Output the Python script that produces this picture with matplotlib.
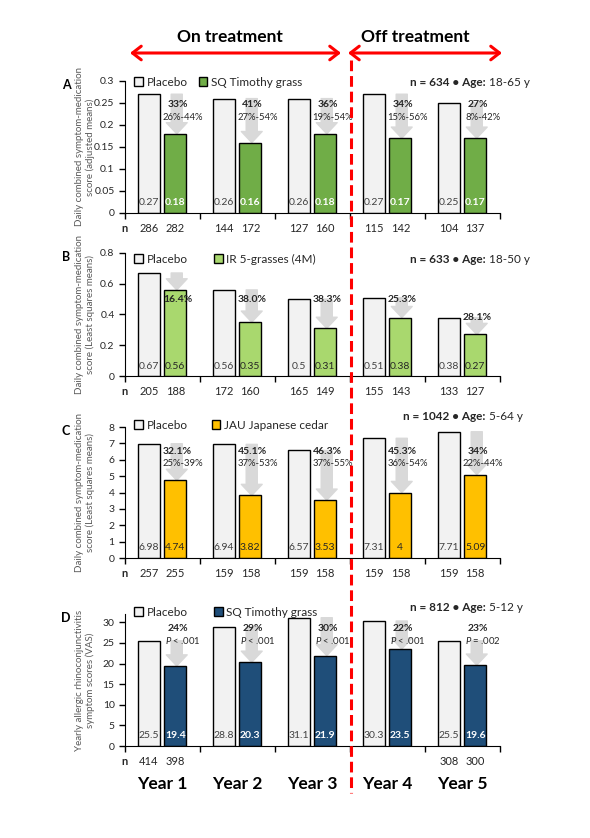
import numpy as np
import matplotlib
matplotlib.use('Agg')
import matplotlib.pyplot as plt
from matplotlib.patches import Patch, FancyArrowPatch
from matplotlib.lines import Line2D

plt.rcParams['font.family'] = ['Lato', 'DejaVu Sans']
plt.rcParams['mathtext.fontset'] = 'custom'
plt.rcParams['mathtext.rm'] = 'Lato'
plt.rcParams['mathtext.it'] = 'Lato:italic'
plt.rcParams['mathtext.bf'] = 'Lato:bold'

years = ['Year 1', 'Year 2', 'Year 3', 'Year 4', 'Year 5']

# panel A - SQ Timothy grass (adults)
a_placebo = [0.27, 0.26, 0.26, 0.27, 0.25]
a_active = [0.18, 0.16, 0.18, 0.17, 0.17]
a_pct = ['33%', '41%', '36%', '34%', '27%']
a_sub = ['26%-44%', '27%-54%', '19%-54%', '15%-56%', '8%-42%']
a_n_placebo = [286, 144, 127, 115, 104]
a_n_active = [282, 172, 160, 142, 137]

# panel B - IR 5-grasses
b_placebo = [0.67, 0.56, 0.5, 0.51, 0.38]
b_active = [0.56, 0.35, 0.31, 0.38, 0.27]
b_pct = ['16.4%', '38.0%', '38.3%', '25.3%', '28.1%']
b_n_placebo = [205, 172, 165, 155, 133]
b_n_active = [188, 160, 149, 143, 127]

# panel C - JAU Japanese cedar
c_placebo = [6.98, 6.94, 6.57, 7.31, 7.71]
c_active = [4.74, 3.82, 3.53, 4, 5.09]
c_pct = ['32.1%', '45.1%', '46.3%', '45.3%', '34%']
c_sub = ['25%-39%', '37%-53%', '37%-55%', '36%-54%', '22%-44%']
c_n_placebo = [257, 159, 159, 159, 159]
c_n_active = [255, 158, 158, 158, 158]

# panel D - SQ Timothy grass (children)
d_placebo = [25.5, 28.8, 31.1, 30.3, 25.5]
d_active = [19.4, 20.3, 21.9, 23.5, 19.6]
d_pct = ['24%', '29%', '30%', '22%', '23%']
d_sub = ['$P$ < .001', '$P$ < .001', '$P$ < .001', '$P$ < .001', '$P$ = .002']
d_n_placebo = [414, None, None, None, 308]
d_n_active = [398, None, None, None, 300]

panels = [
    dict(letter='A', placebo=a_placebo, active=a_active, pct=a_pct, sub=a_sub,
         n_p=a_n_placebo, n_a=a_n_active, color='#70ad47', vcolor='white',
         drug='SQ Timothy grass', info=('n = 634 \u2022 Age:', ' 18-65 y'),
         ylabel='Daily combined symptom-medication\nscore (adjusted means)',
         ylim=0.3, yticks=np.arange(0, 0.31, 0.05),
         rect=[125, 213, 132], pct_y=(0.82, 0.72), leg_y=0.99, info_y=0.99, colsp=0.9),
    dict(letter='B', placebo=b_placebo, active=b_active, pct=b_pct, sub=None,
         n_p=b_n_placebo, n_a=b_n_active, color='#a9d86e', vcolor='#262626',
         drug='IR 5-grasses (4M)', info=('n = 633 \u2022 Age:', ' 18-50 y'),
         ylabel='Daily combined symptom-medication\nscore (Least squares means)',
         ylim=0.8, yticks=np.arange(0, 0.81, 0.2),
         rect=[125, 376, 123], pct_y=None, leg_y=0.95, info_y=0.95, colsp=2.2),
    dict(letter='C', placebo=c_placebo, active=c_active, pct=c_pct, sub=c_sub,
         n_p=c_n_placebo, n_a=c_n_active, color='#ffc000', vcolor='#262626',
         drug='JAU Japanese cedar', info=('n = 1042 \u2022 Age:', ' 5-64 y'),
         ylabel='Daily combined symptom-medication\nscore (Least squares means)',
         ylim=8, yticks=np.arange(0, 9, 1),
         rect=[125, 558, 131], pct_y=(0.81, 0.725), leg_y=1.015, info_y=1.08, colsp=2.0),
    dict(letter='D', placebo=d_placebo, active=d_active, pct=d_pct, sub=d_sub,
         n_p=d_n_placebo, n_a=d_n_active, color='#1f4e79', vcolor='white',
         drug='SQ Timothy grass', info=('n = 812 \u2022 Age:', ' 5-12 y'),
         ylabel='Yearly allergic rhinoconjunctivitis\nsymptom scores (VAS)',
         ylim=32, yticks=np.arange(0, 31, 5),
         rect=[125, 746, 132], pct_y=(0.89, 0.80), leg_y=1.015, info_y=1.05, colsp=2.2),
]

W, H = 590, 838
fig = plt.figure(figsize=(W / 100, H / 100), dpi=100)
dark = '#262626'
grey_txt = '#404040'
x = np.arange(len(years))
wbar = 0.29

for pn in panels:
    left, bottom, hpx = pn['rect']
    ax = fig.add_axes([left / W, 1 - bottom / H, 375 / W, hpx / H])
    ax.bar(x - 0.18, pn['placebo'], wbar, color='#f2f2f2', edgecolor='black', linewidth=1, zorder=2)
    ax.bar(x + 0.17, pn['active'], wbar, color=pn['color'], edgecolor='black', linewidth=1, zorder=2)
    ax.set_xlim(-0.5, 4.5)
    ax.set_ylim(0, pn['ylim'])
    ax.set_xticks(np.arange(-0.5, 5, 1))
    ax.set_xticklabels([])
    ax.set_yticks(pn['yticks'])
    ax.set_yticklabels([f'{v:g}' for v in pn['yticks']], fontsize=7.5, color=dark)
    ax.tick_params(axis='both', direction='out', length=4, width=1)
    ax.spines['top'].set_visible(False)
    ax.spines['right'].set_visible(False)
    ax.patch.set_alpha(0)

    for i in range(len(years)):
        p, a = pn['placebo'][i], pn['active'][i]
        xa = i + 0.17
        ax.annotate('', xy=(xa + 0.02, a), xytext=(xa + 0.02, p),
                    arrowprops=dict(arrowstyle='simple,head_length=0.8,head_width=1.5,tail_width=0.8',
                                    color='#d9d9d9', shrinkA=0, shrinkB=0, mutation_scale=10),
                    zorder=1)
        # values inside bars
        ax.text(i - 0.18, 0.08, f'{p:g}', transform=ax.get_xaxis_transform(), ha='center',
                va='center', fontsize=7.5, color=grey_txt, zorder=3)
        ax.text(xa, 0.08, f'{a:g}', transform=ax.get_xaxis_transform(), ha='center',
                va='center', fontsize=7.5, color=pn['vcolor'], zorder=3,
                fontweight='bold' if pn['vcolor'] == 'white' else 'normal')
        # reduction labels
        if pn['pct_y'] is None:
            ax.text(xa + 0.03, min(p, 0.5), pn['pct'][i], ha='center', va='center',
                    fontsize=7.5, fontweight='bold', color=dark, zorder=3)
        else:
            ax.text(xa + 0.03, pn['pct_y'][0], pn['pct'][i], transform=ax.get_xaxis_transform(),
                    ha='center', va='center', fontsize=7.5, fontweight='bold', color=dark, zorder=3)
            ax.text(xa + 0.1, pn['pct_y'][1], pn['sub'][i], transform=ax.get_xaxis_transform(),
                    ha='center', va='center', fontsize=6.8, color=dark, zorder=3)
        # n row
        for xx, nv in ((i - 0.18, pn['n_p'][i]), (xa, pn['n_a'][i])):
            if nv is not None:
                ax.annotate(str(nv), xy=(xx, 0), xycoords=('data', 'axes fraction'),
                            xytext=(0, -11.5), textcoords='offset points',
                            ha='center', va='center', fontsize=8, color=dark)
    ax.annotate('n', xy=(-0.5, 0), xycoords=('data', 'axes fraction'),
                xytext=(0, -11.5), textcoords='offset points',
                ha='center', va='center', fontsize=8, fontweight='bold', color=dark)

    ax.legend(handles=[Patch(facecolor='#f2f2f2', edgecolor='black', label='Placebo'),
                       Patch(facecolor=pn['color'], edgecolor='black', label=pn['drug'])],
              ncol=2, loc='center left', bbox_to_anchor=(0.025, pn['leg_y']), frameon=False,
              fontsize=8.5, handlelength=0.75, handleheight=0.75, handletextpad=0.3,
              columnspacing=pn['colsp'], borderpad=0, borderaxespad=0)
    for t in ax.get_legend().get_texts():
        t.set_color(dark)

    ax.text(0.962, pn['info_y'], pn['info'][0], transform=ax.transAxes, ha='right',
            va='center', fontsize=8.5, fontweight='bold', color=dark)
    ax.text(0.962, pn['info_y'], pn['info'][1], transform=ax.transAxes, ha='left',
            va='center', fontsize=8.5, color=dark)

    cy = 1 - (bottom - hpx / 2) / H
    fig.text(85 / W, cy, pn['ylabel'], rotation=90, ha='center', va='center',
             multialignment='center', fontsize=7, color='#595959', linespacing=1.15)
    fig.text(66 / W, 1 - (bottom - hpx + 4) / H, pn['letter'], ha='center', va='center',
             fontsize=9, fontweight='bold', color='black')

    if pn['letter'] == 'D':
        for i, yr in enumerate(years):
            ax.annotate(yr, xy=(i, 0), xycoords=('data', 'axes fraction'),
                        xytext=(0, -27), textcoords='offset points',
                        ha='center', va='center', fontsize=12.5, fontweight='bold', color='black')

# on/off treatment header
fig.text(230 / W, 1 - 37 / H, 'On treatment', ha='center', va='center',
         fontsize=12.5, fontweight='bold')
fig.text(415 / W, 1 - 37 / H, 'Off treatment', ha='center', va='center',
         fontsize=12.5, fontweight='bold')
for x0, x1 in ((130, 341), (348, 502)):
    fig.add_artist(FancyArrowPatch(
        (x0 / W, 1 - 53 / H), (x1 / W, 1 - 53 / H), transform=fig.transFigure,
        arrowstyle='<->,head_length=0.45,head_width=0.35', mutation_scale=14,
        color='#ff0000', lw=2.2, shrinkA=0, shrinkB=0))
fig.add_artist(Line2D([351 / W, 351 / W], [1 - 60 / H, 1 - 793 / H], transform=fig.transFigure,
                      color='#ff0000', lw=2.2, linestyle=(0, (3.5, 1.6))))

fig.savefig('out.png', dpi=100)
